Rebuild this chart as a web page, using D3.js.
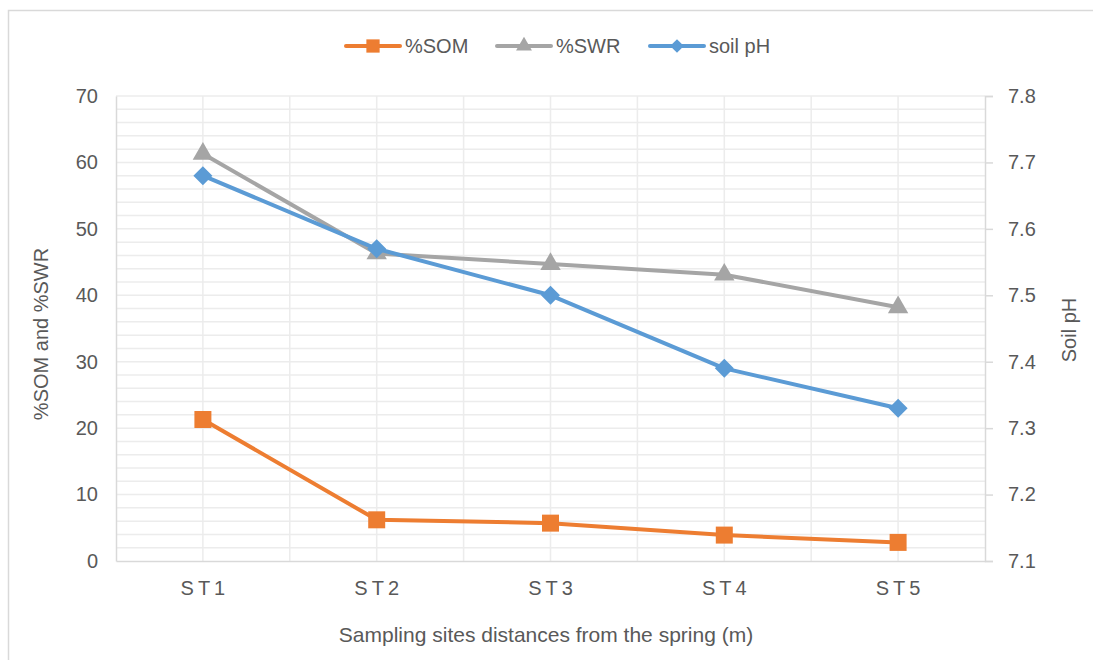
<!DOCTYPE html>
<html>
<head>
<meta charset="utf-8">
<script src="https://cdn.jsdelivr.net/npm/d3@7"></script>
<style>
  html, body { margin: 0; padding: 0; background: #fff; }
  svg { display: block; font-family: "Liberation Sans", Arial, sans-serif; }
</style>
</head>
<body>
<svg id="chart" width="1093" height="660"></svg>
<script>
// Sampling sites and measured values
const sites = ["ST1", "ST2", "ST3", "ST4", "ST5"];
const som = [21.3, 6.2, 5.7, 3.9, 2.8];
const swr = [61.3, 46.3, 44.7, 43.1, 38.2];
const ph = [7.68, 7.57, 7.50, 7.39, 7.33];
const leftTicks = [0, 10, 20, 30, 40, 50, 60, 70];
const rightTicks = [7.1, 7.2, 7.3, 7.4, 7.5, 7.6, 7.7, 7.8];

const colors = { som: "#ED7D31", swr: "#A5A5A5", ph: "#5B9BD5" };
const textColor = "#595959";
const fontSize = 20;

const svg = d3.select("#chart");
const m = { left: 116, right: 985, top: 96, bottom: 561 };

// Outer frame (top and left edges fall inside the canvas)
svg.append("path")
  .attr("d", "M8.5,660V10.5H1093")
  .attr("fill", "none").attr("stroke", "#d9d9d9").attr("stroke-width", 1.5);

const x = d3.scaleBand().domain(sites).range([m.left, m.right]).padding(0);
const yL = d3.scaleLinear().domain([0, 70]).range([m.bottom, m.top]);
const yR = d3.scaleLinear().domain([7.1, 7.8]).range([m.bottom, m.top]);
const cx = d => x(d) + x.bandwidth() / 2;

// Gridlines: minor horizontal every 2 units, vertical at band edges and centres
const grid = svg.append("g").attr("stroke", "#ececec").attr("stroke-width", 1.5);
d3.range(2, 71, 2).forEach(v => {
  grid.append("line").attr("x1", m.left).attr("x2", m.right)
    .attr("y1", yL(v)).attr("y2", yL(v));
});
d3.range(1, 10).forEach(k => {
  const xv = m.left + k * x.bandwidth() / 2;
  grid.append("line").attr("x1", xv).attr("x2", xv)
    .attr("y1", m.top).attr("y2", m.bottom);
});

// Axes
const axisStyle = g => {
  g.selectAll(".domain").attr("stroke", "#d9d9d9").attr("stroke-width", 1.5);
  g.selectAll(".tick line").attr("stroke", "#d9d9d9").attr("stroke-width", 1.5);
  g.selectAll("text").attr("fill", textColor).attr("font-size", fontSize)
    .attr("font-family", "'Liberation Sans', Arial, sans-serif");
};

svg.append("g").attr("transform", `translate(${m.left},0)`)
  .call(d3.axisLeft(yL).tickValues(leftTicks).tickSize(0).tickPadding(18).tickFormat(d3.format("d")))
  .call(axisStyle);

svg.append("g").attr("transform", `translate(${m.right},0)`)
  .call(d3.axisRight(yR).tickValues(rightTicks).tickSize(8).tickPadding(15).tickFormat(d3.format(".1f")))
  .call(axisStyle);

svg.append("g").attr("transform", `translate(0,${m.bottom})`)
  .call(d3.axisBottom(x).tickSize(0).tickPadding(20))
  .call(axisStyle)
  .call(g => g.selectAll("text").attr("letter-spacing", 4).attr("dx", 2));

// Axis titles
svg.append("text")
  .attr("x", 546).attr("y", 642)
  .attr("text-anchor", "middle").attr("fill", textColor).attr("font-size", 21)
  .text("Sampling sites distances from the spring (m)");

svg.append("text")
  .attr("transform", "translate(48,334) rotate(-90)")
  .attr("text-anchor", "middle").attr("fill", textColor).attr("font-size", fontSize)
  .text("%SOM and %SWR");

svg.append("text")
  .attr("transform", "translate(1076,330) rotate(-90)")
  .attr("text-anchor", "middle").attr("fill", textColor).attr("font-size", fontSize)
  .text("Soil pH");

// Marker shapes
const markerPath = {
  som: d3.symbol(d3.symbolSquare, 289)(),
  swr: d3.symbol(d3.symbolTriangle, 180)(),
  ph: "M0,-9.5L9.5,0L0,9.5L-9.5,0Z"
};

const series = [
  { key: "som", values: som, y: yL },
  { key: "swr", values: swr, y: yL },
  { key: "ph", values: ph, y: yR }
];

series.forEach(s => {
  const pts = s.values.map((v, i) => [cx(sites[i]), s.y(v)]);
  svg.append("path")
    .attr("d", d3.line()(pts))
    .attr("fill", "none").attr("stroke", colors[s.key])
    .attr("stroke-width", 4).attr("stroke-linejoin", "round").attr("stroke-linecap", "round");
  svg.append("g").selectAll("path").data(pts).join("path")
    .attr("transform", d => `translate(${d[0]},${d[1]})`)
    .attr("d", markerPath[s.key]).attr("fill", colors[s.key]);
});

// Legend
const legend = [
  { key: "som", label: "%SOM", x: 346 },
  { key: "swr", label: "%SWR", x: 497 },
  { key: "ph", label: "soil pH", x: 650 }
];
const ly = 46;
legend.forEach(l => {
  const g = svg.append("g").attr("transform", `translate(${l.x},${ly})`);
  g.append("line").attr("x1", 0).attr("x2", 54).attr("y1", 0).attr("y2", 0)
    .attr("stroke", colors[l.key]).attr("stroke-width", 4).attr("stroke-linecap", "round");
  const scale = l.key === "ph" ? 0.72 : 0.78;
  g.append("path").attr("transform", `translate(27,0) scale(${scale})`)
    .attr("d", markerPath[l.key]).attr("fill", colors[l.key]);
  g.append("text").attr("x", 59).attr("y", 7).attr("fill", textColor)
    .attr("font-size", fontSize).text(l.label);
});
</script>
</body>
</html>
